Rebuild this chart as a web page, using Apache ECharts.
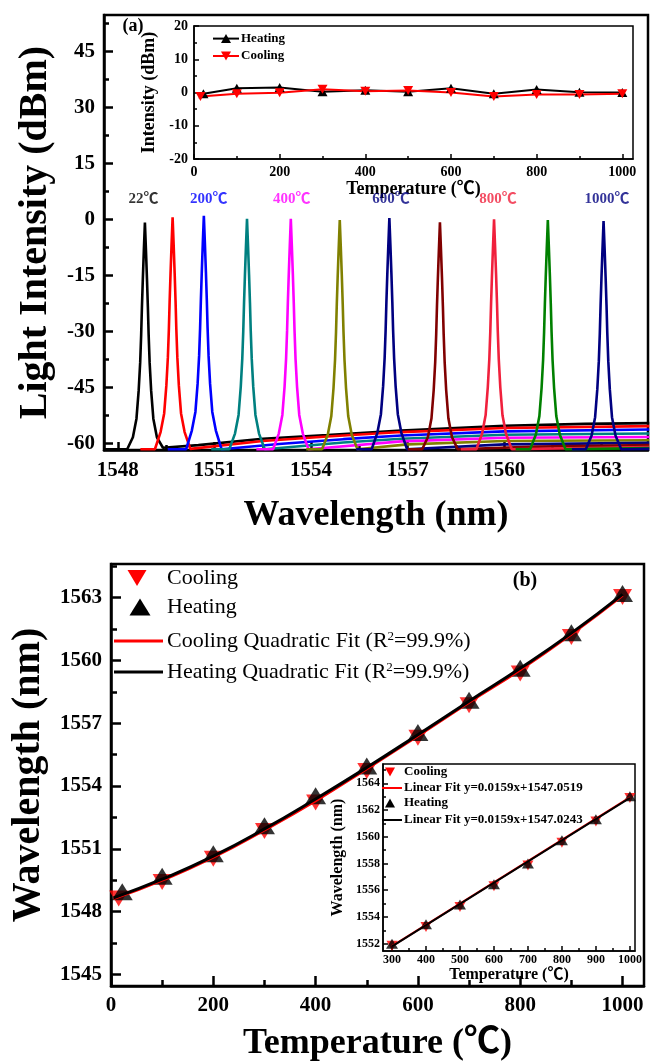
<!DOCTYPE html>
<html>
<head>
<meta charset="utf-8">
<script src="https://cdn.jsdelivr.net/npm/echarts@6/dist/echarts.min.js"></script>
<style>
html, body { margin: 0; padding: 0; background: #fff; }
#chart { width: 654px; height: 1063px; }
</style>
</head>
<body>
<div id="chart"></div>
<script>
var SERIF = "'Liberation Serif', 'Noto Sans CJK SC', serif";
var DOWN = 'path://M0,0L10,0L5,9Z';

// ---- panel (a): spectra ----
var specTemps = [22, 100, 200, 300, 400, 500, 600, 700, 800, 900, 1000];
var specColors = ['#000000', '#ff0000', '#0000ff', '#008080', '#ff00ff', '#808000', '#000080', '#800000', '#f0203c', '#008000', '#000080'];
var peakCenters = [1548.84, 1549.70, 1550.67, 1552.01, 1553.37, 1554.89, 1556.43, 1558.00, 1559.68, 1561.35, 1563.08];
var peakLevels = [-0.9, 0.5, 0.9, 0.1, 0.1, -0.2, 0.3, -0.8, 0, -0.2, -0.5];
var traceStarts = [1547.6, 1548.7, 1549.55, 1550.9, 1552.3, 1553.85, 1555.4, 1557.0, 1558.65, 1560.35, 1562.1];
var peakProfile = [[0.033, 7.5], [0.064, 15], [0.092, 22.5], [0.116, 30], [0.147, 37.5], [0.194, 45], [0.262, 52.5], [0.373, 57.5]];
var skirtFoot = 0.55;
var leftFloor = -61.6;
var floorLines = [
	[[1549.4, -61.2], [1550.5, -60.5], [1552.5, -58.8], [1554.5, -57.8], [1556.8, -56.6], [1560, -55.3], [1562.5, -54.8], [1564.5, -54.6]],
	[[1550.25, -61.5], [1552.5, -59.4], [1554.5, -58.2], [1556.8, -57.0], [1560, -55.9], [1564.5, -55.4]],
	[[1551.22, -61.6], [1553, -60.2], [1555, -58.9], [1556.8, -57.9], [1560, -56.8], [1564.5, -56.3]],
	[[1552.56, -61.6], [1555, -59.8], [1556.8, -58.8], [1560, -57.7], [1564.5, -57.4]],
	[[1553.92, -61.6], [1556.8, -59.5], [1560, -58.5], [1564.5, -58.3]],
	[[1555.44, -61.6], [1557, -60.3], [1560, -59.4], [1564.5, -59.2]],
	[[1556.98, -61.6], [1560, -60.3], [1564.5, -59.9]],
	[[1558.55, -61.6], [1561, -60.9], [1564.5, -60.5]],
	[[1560.23, -61.6], [1564.5, -61.0]],
	[[1561.9, -61.6], [1564.5, -61.3]],
	[[1563.63, -61.6], [1564.5, -61.5]]
];
var tagTexts = ['22℃', '200℃', '400℃', '600℃', '800℃', '1000℃'];
var tagColors = ['#000000', '#0000ff', '#ff00ff', '#000080', '#f0203c', '#000080'];
var tagX = [1548.8, 1550.82, 1553.4, 1556.48, 1559.8, 1563.19];
var tagY = 5.4;

// ---- panel (a) inset: peak power vs temperature ----
var insHeatT = [22, 100, 200, 300, 400, 500, 600, 700, 800, 900, 1000];
var insHeatP = [-0.4, 1.3, 1.5, 0.2, 0.7, 0.2, 1.3, -0.4, 0.9, 0.1, 0];
var insCoolT = [15, 100, 200, 300, 400, 500, 600, 700, 800, 900, 1000];
var insCoolP = [-1.2, -0.4, -0.1, 1.0, 0.4, 0.6, 0, -1.2, -0.6, -0.6, -0.4];

// ---- panel (b): wavelength vs temperature ----
var heatT = [22, 100, 200, 300, 400, 500, 600, 700, 800, 900, 1000];
var heatWl = [1548.95, 1549.69, 1550.76, 1552.1, 1553.53, 1554.95, 1556.55, 1558.1, 1559.62, 1561.32, 1563.19];
var coolT = [15, 100, 200, 300, 400, 500, 600, 700, 800, 900, 1000];
var coolWl = [1548.63, 1549.42, 1550.53, 1551.85, 1553.21, 1554.72, 1556.3, 1557.85, 1559.37, 1561.12, 1563.03];
var fitT = [5, 100, 200, 300, 400, 500, 600, 700, 800, 900, 1000];
var coolFitWl = [1548.62, 1549.5, 1550.6, 1551.9, 1553.3, 1554.83, 1556.4, 1558.0, 1559.55, 1561.25, 1563.1];
var heatFitWl = [1548.66, 1549.55, 1550.65, 1551.95, 1553.38, 1554.88, 1556.45, 1558.05, 1559.62, 1561.3, 1563.15];

// ---- panel (b) inset: linear fit 300-1000 C ----
var linT = [300, 400, 500, 600, 700, 800, 900, 1000];
var linHeatWl = [1552.0, 1553.45, 1554.93, 1556.45, 1558.0, 1559.74, 1561.31, 1563.04];
var linCoolWl = [1551.85, 1553.25, 1554.75, 1556.3, 1557.85, 1559.55, 1561.15, 1562.9];
var linFitT = [300, 1000];
var linCoolFitWl = [1551.82, 1562.95];
var linHeatFitWl = [1551.8, 1562.92];

function zip(a, b) {
	var out = [];
	for (var i = 0; i < a.length; i++) out.push([a[i], b[i]]);
	return out;
}

function spectrum(i) {
	var c = peakCenters[i], h = peakLevels[i];
	var pts = [[traceStarts[i], leftFloor], [c - skirtFoot, leftFloor]];
	for (var k = peakProfile.length - 1; k >= 0; k--) pts.push([c - peakProfile[k][0], h - peakProfile[k][1]]);
	pts.push([c, h]);
	for (k = 0; k < peakProfile.length; k++) pts.push([c + peakProfile[k][0], h - peakProfile[k][1]]);
	return pts.concat(floorLines[i]);
}

function plain(v) {
	return String(v);
}

function axes(grid, pos, min, max, labels, major, minor, st) {
	var main = {
		type: 'value', gridIndex: grid, position: pos, min: min, max: max,
		axisLine: { show: true, onZero: false, lineStyle: { color: '#000', width: st.lw } },
		axisTick: { show: true, inside: true, length: st.tick, customValues: major, lineStyle: { color: '#000', width: st.lw } },
		axisLabel: { show: true, customValues: labels, formatter: plain, margin: st.margin, color: '#000', fontFamily: SERIF, fontWeight: 'bold', fontSize: st.fs },
		splitLine: { show: false },
		name: st.name, nameLocation: 'middle', nameGap: st.gap,
		nameTextStyle: { color: '#000', fontFamily: SERIF, fontWeight: 'bold', fontSize: st.nfs }
	};
	var sub = {
		type: 'value', gridIndex: grid, position: pos, min: min, max: max,
		axisLine: { show: false, onZero: false }, axisLabel: { show: false }, splitLine: { show: false },
		axisTick: { show: true, inside: true, length: st.minor, customValues: minor, lineStyle: { color: '#000', width: st.lw } }
	};
	return [main, sub];
}

function tri(cx, cy, w, h, up, color) {
	var pts = up ? [[cx - w / 2, cy + h / 2], [cx + w / 2, cy + h / 2], [cx, cy - h / 2]]
		: [[cx - w / 2, cy - h / 2], [cx + w / 2, cy - h / 2], [cx, cy + h / 2]];
	return { type: 'polygon', z: 100, shape: { points: pts }, style: { fill: color } };
}
function seg(x1, x2, y, color, w) {
	return { type: 'line', z: 100, shape: { x1: x1, y1: y, x2: x2, y2: y }, style: { stroke: color, lineWidth: w } };
}
function txt(x, y, s, size, weight, align, rich) {
	var st = { text: s, fill: '#000', fontSize: size, fontFamily: SERIF, fontWeight: weight, align: align || 'left', verticalAlign: 'middle' };
	if (rich) st.rich = rich;
	return { type: 'text', z: 100, x: x, y: y, style: st };
}

var chart = echarts.init(document.getElementById('chart'));

var xa = [].concat(
	axes(0, 'bottom', 1547.57, 1564.46, [1548, 1551, 1554, 1557, 1560, 1563], [1548, 1551, 1554, 1557, 1560, 1563],
		[1549.5, 1552.5, 1555.5, 1558.5, 1561.5, 1564.5], { lw: 2.5, tick: 8, minor: 5, margin: 10, fs: 21, name: 'Wavelength (nm)', gap: 48, nfs: 36 }),
	axes(1, 'bottom', 0, 1025, [0, 200, 400, 600, 800, 1000], [0, 200, 400, 600, 800, 1000],
		[100, 300, 500, 700, 900], { lw: 1.5, tick: 5, minor: 3, margin: 6, fs: 14, name: 'Temperature (℃)', gap: 10, nfs: 18 }),
	axes(2, 'bottom', 0, 1042, [0, 200, 400, 600, 800, 1000], [0, 200, 400, 600, 800, 1000],
		[100, 300, 500, 700, 900], { lw: 2.5, tick: 10, minor: 6, margin: 9, fs: 21, name: 'Temperature (℃)', gap: 40, nfs: 36 }),
	axes(3, 'bottom', 273.5, 1015, [300, 400, 500, 600, 700, 800, 900, 1000], [300, 400, 500, 600, 700, 800, 900, 1000],
		[350, 450, 550, 650, 750, 850, 950], { lw: 1.5, tick: 5, minor: 3, margin: 3, fs: 12, name: 'Temperature (℃)', gap: 16, nfs: 16 })
);
var ya = [].concat(
	axes(0, 'left', -61.8, 54.7, [-60, -45, -30, -15, 0, 15, 30, 45], [-60, -45, -30, -15, 0, 15, 30, 45],
		[-52.5, -37.5, -22.5, -7.5, 7.5, 22.5, 37.5, 52.5], { lw: 2.5, tick: 9, minor: 5, margin: 9, fs: 21, name: 'Light Intensity (dBm)', gap: 46, nfs: 40 }),
	axes(1, 'left', -20, 20, [-20, -10, 0, 10, 20], [-20, -10, 0, 10, 20],
		[-15, -5, 5, 15], { lw: 1.5, tick: 5, minor: 3, margin: 6, fs: 14, name: 'Intensity (dBm)', gap: 24, nfs: 18 }),
	axes(2, 'left', 1544.45, 1564.6, [1545, 1548, 1551, 1554, 1557, 1560, 1563], [1545, 1548, 1551, 1554, 1557, 1560, 1563],
		[1546.5, 1549.5, 1552.5, 1555.5, 1558.5, 1561.5, 1564.5], { lw: 2.5, tick: 10, minor: 6, margin: 9, fs: 21, name: 'Wavelength (nm)', gap: 56, nfs: 40 }),
	axes(3, 'left', 1551.45, 1565.45, [1552, 1554, 1556, 1558, 1560, 1562, 1564], [1552, 1554, 1556, 1558, 1560, 1562, 1564],
		[1553, 1555, 1557, 1559, 1561, 1563, 1565], { lw: 1.5, tick: 5, minor: 3, margin: 3, fs: 12, name: 'Wavelength (nm)', gap: 37, nfs: 16 })
);

var series = [];
for (var i = 0; i < specTemps.length; i++) {
	series.push({
		type: 'line', name: specTemps[i] + '℃', xAxisIndex: 0, yAxisIndex: 0,
		data: spectrum(i), symbol: 'none', clip: true,
		lineStyle: { color: specColors[i], width: 2.6 }, itemStyle: { color: specColors[i] }
	});
}
var tags = [];
for (i = 0; i < tagTexts.length; i++) {
	tags.push({ name: tagTexts[i], value: [tagX[i], tagY], label: { color: tagColors[i] } });
}
series.push({
	type: 'scatter', xAxisIndex: 0, yAxisIndex: 0, data: tags, symbolSize: 1,
	itemStyle: { color: 'transparent' },
	label: { show: true, position: 'inside', formatter: '{b}', fontFamily: SERIF, fontWeight: 'bold', fontSize: 15 }
});

series.push({
	type: 'line', name: 'Heating', xAxisIndex: 2, yAxisIndex: 2, data: zip(insHeatT, insHeatP),
	symbol: 'triangle', symbolSize: [10, 9], lineStyle: { color: '#000', width: 2 }, itemStyle: { color: '#000' }
});
series.push({
	type: 'line', name: 'Cooling', xAxisIndex: 2, yAxisIndex: 2, data: zip(insCoolT, insCoolP),
	symbol: DOWN, symbolSize: [10, 9], lineStyle: { color: '#ff0000', width: 2 }, itemStyle: { color: '#ff0000' }
});

series.push({
	type: 'scatter', name: 'Cooling', xAxisIndex: 4, yAxisIndex: 4, data: zip(coolT, coolWl),
	symbol: DOWN, symbolSize: [19, 16], itemStyle: { color: '#ff0000' }
});
series.push({
	type: 'scatter', name: 'Heating', xAxisIndex: 4, yAxisIndex: 4, data: zip(heatT, heatWl),
	symbol: 'triangle', symbolSize: [21, 17], itemStyle: { color: '#000' }
});
series.push({
	type: 'line', name: 'Cooling Quadratic Fit', xAxisIndex: 4, yAxisIndex: 4, data: zip(fitT, coolFitWl),
	symbol: 'none', smooth: true, lineStyle: { color: '#ff0000', width: 3 }
});
series.push({
	type: 'line', name: 'Heating Quadratic Fit', xAxisIndex: 4, yAxisIndex: 4, data: zip(fitT, heatFitWl),
	symbol: 'none', smooth: true, lineStyle: { color: '#000', width: 3 }
});

series.push({
	type: 'scatter', xAxisIndex: 6, yAxisIndex: 6, data: zip(linT, linCoolWl),
	symbol: DOWN, symbolSize: [11, 10], itemStyle: { color: '#ff0000' }
});
series.push({
	type: 'line', xAxisIndex: 6, yAxisIndex: 6, data: zip(linFitT, linCoolFitWl),
	symbol: 'none', lineStyle: { color: '#ff0000', width: 2 }
});
series.push({
	type: 'scatter', xAxisIndex: 6, yAxisIndex: 6, data: zip(linT, linHeatWl),
	symbol: 'triangle', symbolSize: [12, 10], itemStyle: { color: '#000' }
});
series.push({
	type: 'line', xAxisIndex: 6, yAxisIndex: 6, data: zip(linFitT, linHeatFitWl),
	symbol: 'none', lineStyle: { color: '#000', width: 2 }
});

var sup = { sup: { fontSize: 13, fontFamily: SERIF, verticalAlign: 'top', padding: [0, 0, 9, 0] } };
var graphics = [
	txt(133, 26, '(a)', 18, 'bold', 'center'),
	seg(213, 239, 38.6, '#000', 2), tri(226, 38.6, 10, 9, true, '#000'), txt(241, 38.6, 'Heating', 13, 'bold'),
	seg(213, 239, 56, '#ff0000', 2), tri(226, 56, 10, 9, false, '#ff0000'), txt(241, 56, 'Cooling', 13, 'bold'),

	txt(525, 581, '(b)', 20, 'bold', 'center'),
	tri(137, 578, 19, 16, false, '#ff0000'), txt(167, 578, 'Cooling', 22, 'normal'),
	tri(140, 607, 21, 17, true, '#000'), txt(167, 607, 'Heating', 22, 'normal'),
	seg(114, 163, 641, '#ff0000', 3), txt(167, 641, 'Cooling Quadratic Fit (R{sup|2}=99.9%)', 22, 'normal', 'left', sup),
	seg(114, 163, 672, '#000', 3), txt(167, 672, 'Heating Quadratic Fit (R{sup|2}=99.9%)', 22, 'normal', 'left', sup),

	tri(390, 772, 10, 9, false, '#ff0000'), txt(404, 772, 'Cooling', 13, 'bold'),
	seg(382, 402, 788, '#ff0000', 2), txt(404, 788, 'Linear Fit y=0.0159x+1547.0519', 13, 'bold'),
	tri(390, 803, 10, 9, true, '#000'), txt(404, 803, 'Heating', 13, 'bold'),
	seg(382, 402, 820, '#000', 2), txt(404, 820, 'Linear Fit y=0.0159x+1547.0243', 13, 'bold')
];

chart.setOption({
	animation: false,
	backgroundColor: '#fff',
	grid: [
		{ left: 104, top: 15, width: 544, height: 435, show: true, borderColor: '#000', borderWidth: 2.5 },
		{ left: 194, top: 26, width: 439, height: 133, show: true, borderColor: '#000', borderWidth: 1.5, backgroundColor: '#fff' },
		{ left: 111, top: 564, width: 533, height: 426, show: true, borderColor: '#000', borderWidth: 2.5 },
		{ left: 383, top: 764, width: 252, height: 187, show: true, borderColor: '#000', borderWidth: 1.5, backgroundColor: '#fff' }
	],
	xAxis: xa,
	yAxis: ya,
	series: series,
	graphic: graphics
});
</script>
</body>
</html>
